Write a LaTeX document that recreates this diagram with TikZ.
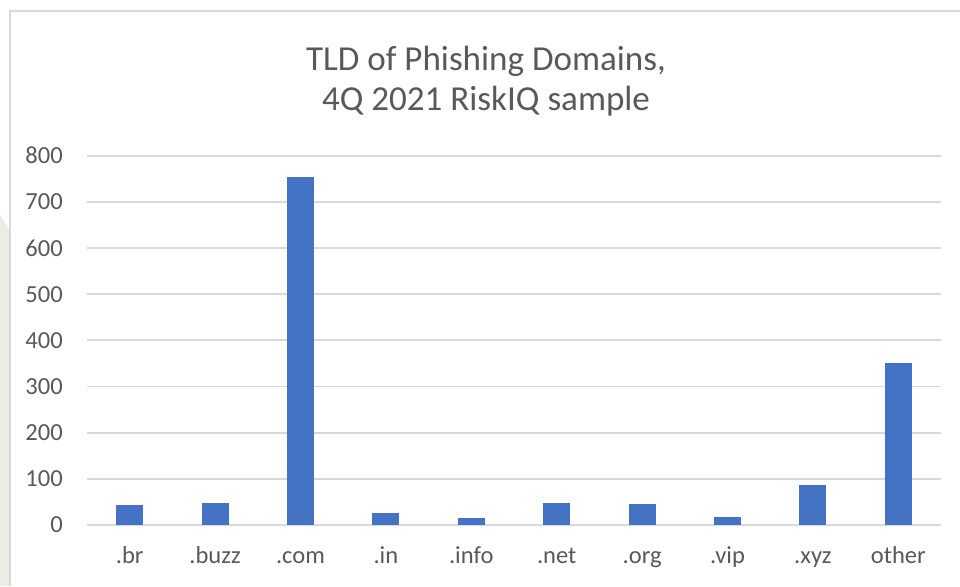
\documentclass[tikz,border=0pt]{standalone}
\usepackage{fontspec}
\setmainfont{Carlito}
\usepackage{tikz}
\usetikzlibrary{positioning, calc}

\definecolor{labelgray}{HTML}{595959}
\definecolor{gridgray}{HTML}{D9D9D9}
\definecolor{barblue}{HTML}{4472C4}
\definecolor{stripgreen}{HTML}{E9EDE6}

\begin{document}
\begin{tikzpicture}
    [x=0.75pt, y=-0.75pt,
    titletext/.style={text=labelgray, font=\fontsize{26.3}{30}\selectfont, inner sep=0pt, anchor=base},
    ticktext/.style={text=labelgray, font=\fontsize{18.4}{22}\selectfont, inner sep=0pt},
    gridline/.style={draw=gridgray, line width=1.3pt},
    barbox/.style={fill=barblue, draw=none},]

    \useasboundingbox (0,0) rectangle (960,586);

    %Frame
    \fill[stripgreen] (0,214) -- (10,232) -- (10,586) -- (0,586) -- cycle;
    \draw[gridgray, line width=1.3pt] (10,586) -- (10,11) -- (960,11);

    %Title
    \node[titletext](title) at (486,70) {TLD of Phishing Domains,};
    \node[titletext](subtitle) at ($(title.base)+(0,40)$) {4Q 2021 RiskIQ sample};

    %Grid and axis
    \foreach \v in {0,100,...,800}{
        \coordinate (g\v) at (87,{525-0.4617*\v});
        \draw[gridline] (g\v) -- ++(854,0);
        \node[ticktext, anchor=east](t\v) at ($(g\v)+(-24,0)$) {\v};
    }

    %Bars
    \foreach \name/\val [count=\i from 0] in {.br/43, .buzz/48, .com/754, .in/26, .info/16,
        .net/48, .org/46, .vip/17, .xyz/86, other/351}{
        \coordinate (c\i) at ({87+85.4*(\i+0.5)},525);
        \fill[barbox] ($(c\i)+(-13.5,0)$) rectangle ($(c\i)+(13.5,{-0.4617*\val})$);
        \node[ticktext, anchor=base](l\i) at ($(c\i)+(0,38)$) {\name};
    }

\end{tikzpicture}
\end{document}
